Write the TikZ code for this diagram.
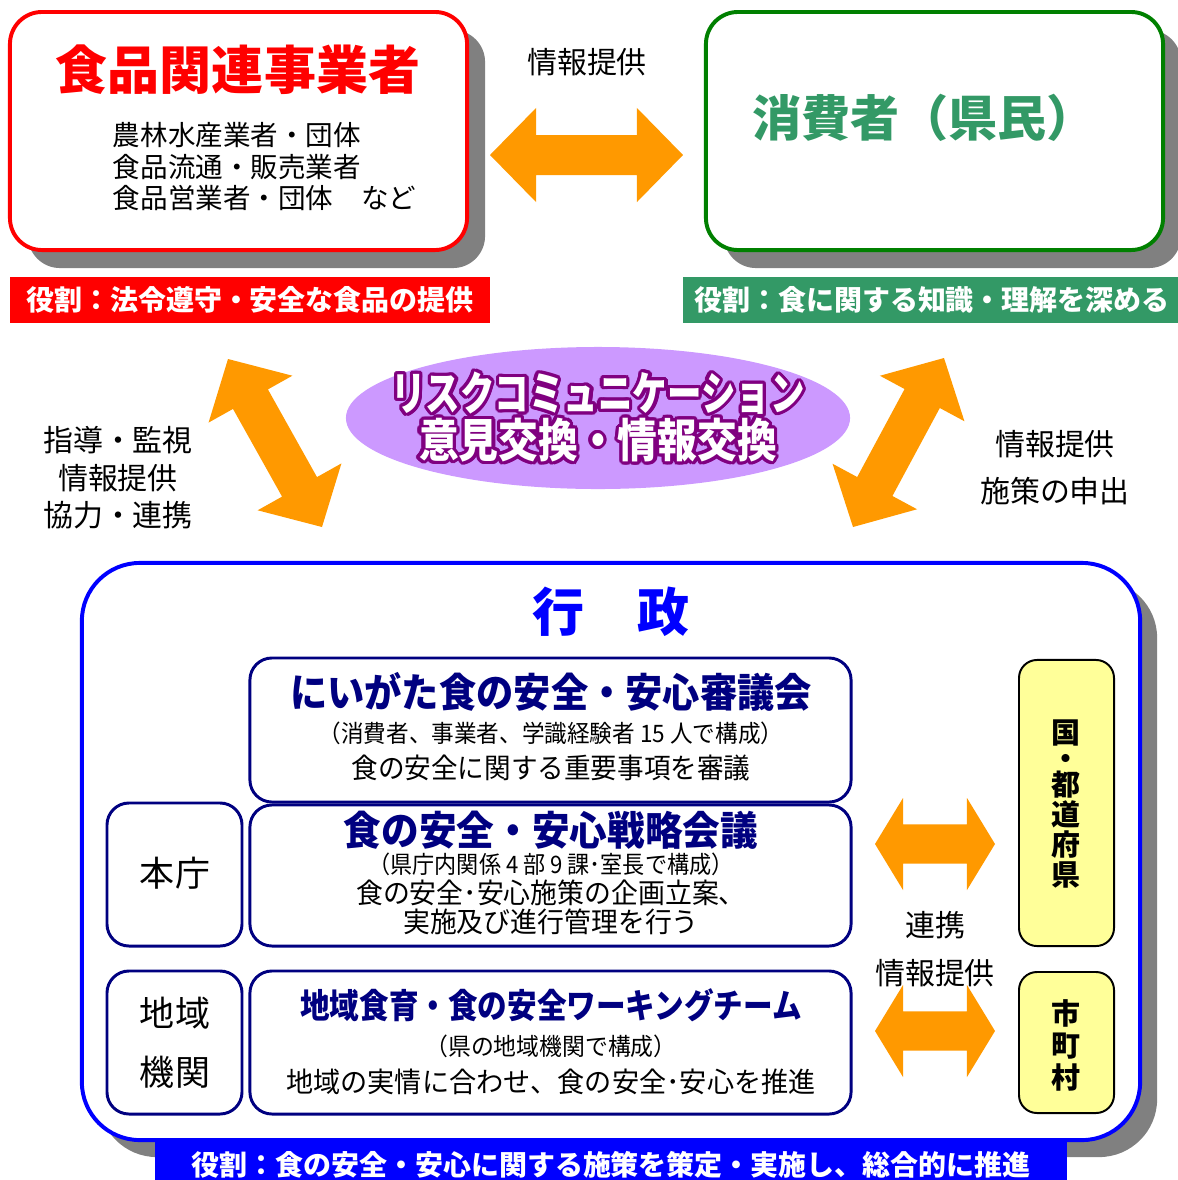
\documentclass[tikz,border=0pt]{standalone}
\usepackage{fontspec}
\usepackage{graphicx}
\setmainfont{Noto Sans CJK JP}
\usetikzlibrary{shapes.geometric,shadows,calc}
\definecolor{redc}{HTML}{FF0000}
\definecolor{greenline}{HTML}{008000}
\definecolor{seagreen}{HTML}{339966}
\definecolor{orangec}{HTML}{FF9900}
\definecolor{lilac}{HTML}{CC99FF}
\definecolor{plum}{HTML}{800080}
\definecolor{bluec}{HTML}{0000FF}
\definecolor{navyc}{HTML}{000080}
\definecolor{lemon}{HTML}{FFFF99}
\definecolor{shadowgray}{HTML}{808080}

% fat double arrow: ends, head length, head half width, shaft half width
\newcommand\fatarrow[5]{%
  \path ($(#1)!#3!(#2)$) coordinate (hA) ($(#2)!#3!(#1)$) coordinate (hB);
  \fill[fatfill] (#1) -- ($(hA)!#4!90:(#2)$) -- ($(hA)!#5!90:(#2)$)
    -- ($(hB)!#5!-90:(#1)$) -- ($(hB)!#4!-90:(#1)$) -- (#2)
    -- ($(hB)!#4!90:(#1)$) -- ($(hB)!#5!90:(#1)$)
    -- ($(hA)!#5!-90:(#2)$) -- ($(hA)!#4!-90:(#2)$) -- cycle;}
\newcommand\sx[2]{\scalebox{#1}[1]{#2}}

\begin{document}
\begin{tikzpicture}[x=0.025cm, y=-0.025cm,
    boxshadow/.style={drop shadow={shadow xshift=#1, shadow yshift=-#1, fill=shadowgray, opacity=1}},
    bigbox/.style={line width=2.8pt, fill=white},
    innerbox/.style={draw=navyc, line width=2.1pt, fill=white, rounded corners=0.55cm, minimum width=15.025cm},
    sidebox/.style={draw=navyc, line width=2.1pt, fill=white, rounded corners=0.55cm, minimum width=3.375cm, minimum height=3.575cm},
    yellowbox/.style={draw=black, line width=1.4pt, fill=lemon, rounded corners=0.45cm, minimum width=2.375cm},
    rolebar/.style={inner sep=0pt, text=white, font=\bfseries\fontsize{19.9}{22}\selectfont},
    sidetext/.style={font=\fontsize{21.3}{26.7}\selectfont, align=center},
    risktext/.style={font=\bfseries\fontsize{32.7}{36}\selectfont},
    navytitle/.style={text=navyc, font=\bfseries\fontsize{28.5}{30}\selectfont},
    smalltext/.style={font=\fontsize{17.1}{19}\selectfont},
    bodytext/.style={font=\fontsize{19.9}{20.6}\selectfont, align=center},
    fatfill/.style={fill=orangec}]
\useasboundingbox (0,0) rectangle (1178,1180);

\node[bigbox, draw=redc, rounded corners=0.8cm, boxshadow=0.45cm, minimum width=11.425cm, minimum height=5.95cm] (bizbox) at (238.5,131) {};
\node[font=\bfseries\fontsize{37}{40}\selectfont, text=redc] (biztitle) at (238,70) {食品関連事業者};
\node[anchor=west, align=left, font=\fontsize{19.6}{22.4}\selectfont] (bizlist) at (108,167) {農林水産業者・団体\\食品流通・販売業者\\食品営業者・団体　など};
\node[rolebar, fill=redc, minimum width=12cm, minimum height=1.15cm] (bizrole) at (250,300) {役割：法令遵守・安全な食品の提供};

\node[bigbox, draw=greenline, rounded corners=0.8cm, boxshadow=0.45cm, minimum width=11.425cm, minimum height=5.95cm] (consbox) at (934.5,131) {};
\node[font=\bfseries\fontsize{34.9}{38}\selectfont, text=seagreen] (constitle) at (924,118) {消費者（県民）};
\node[rolebar, fill=seagreen, minimum width=12.45cm, minimum height=1.15cm] (consrole) at (932,300) {役割：食に関する知識・理解を深める};

\node[sidetext] (topinfo) at (587,62) {情報提供};
\coordinate (topL) at (490,155);
\coordinate (topR) at (683,155);
\fatarrow{topL}{topR}{1.15cm}{1.175cm}{0.5cm}

\node[ellipse, fill=lilac, inner sep=0pt, minimum width=12.6cm, minimum height=3.55cm] (riskell) at (598,418) {};
\foreach \a in {0,20,...,340}{
  \node[risktext, text=plum, shift={(\a:2.4pt)}] (riskA\a) at (598,393) {\sx{0.75}{リスクコミュニケーション}};
  \node[risktext, text=plum, shift={(\a:2.4pt)}] (riskB\a) at (598,440) {\sx{0.865}{意見交換・情報交換}};
}
\node[risktext, text=white] (riskA) at (598,393) {\sx{0.75}{リスクコミュニケーション}};
\node[risktext, text=white] (riskB) at (598,440) {\sx{0.865}{意見交換・情報交換}};

\coordinate (leftA) at (228,359);
\coordinate (leftB) at (322,527);
\fatarrow{leftA}{leftB}{1.15cm}{1.2cm}{0.5cm}
\node[sidetext] (leftinfo) at (118,478) {指導・監視\\情報提供\\協力・連携};
\coordinate (rightA) at (944,358);
\coordinate (rightB) at (853,527);
\fatarrow{rightA}{rightB}{1.15cm}{1.2cm}{0.5cm}
\node[sidetext, font=\fontsize{21.3}{33.4}\selectfont] (rightinfo) at (1055,468) {情報提供\\施策の申出};

\node[bigbox, draw=bluec, rounded corners=1.45cm, boxshadow=0.425cm, minimum width=26.45cm, minimum height=14.425cm] (govbox) at (611,851.5) {};
\node[rolebar, fill=bluec, minimum width=22.8cm, minimum height=1.25cm] (govrole) at (611,1165) {役割：食の安全・安心に関する施策を策定・実施し、総合的に推進};
\node[text=bluec, font=\bfseries\fontsize{37}{40}\selectfont] (govtitle) at (611,612) {行　政};

\node[innerbox, minimum height=3.6cm] (council) at (550.5,730) {};
\node[navytitle] (counciltitle) at (551,692) {\sx{0.93}{にいがた食の安全・安心審議会}};
\node[smalltext] (councilsub) at (551,733) {\sx{0.94}{（消費者、事業者、学識経験者 15 人で構成）}};
\node[bodytext] (councilrole) at (551,768) {\sx{0.95}{食の安全に関する重要事項を審議}};

\node[innerbox, minimum height=3.525cm] (strategy) at (550.5,875.5) {};
\node[navytitle] (strategytitle) at (551,830) {\sx{0.94}{食の安全・安心戦略会議}};
\node[smalltext] (strategysub) at (551,864) {\sx{0.92}{（県庁内関係 4 部 9 課･室長で構成）}};
\node[bodytext] (strategyrole) at (551,907) {\sx{0.96}{食の安全･安心施策の企画立案、}\\\sx{0.96}{実施及び進行管理を行う}};

\node[innerbox, minimum height=3.575cm] (team) at (550.5,1042.5) {};
\node[navytitle, font=\bfseries\fontsize{24.2}{26}\selectfont] (teamtitle) at (551,1005) {\sx{0.87}{地域食育・食の安全ワーキングチーム}};
\node[smalltext] (teamsub) at (551,1046) {\sx{0.95}{（県の地域機関で構成）}};
\node[bodytext] (teamrole) at (551,1082) {\sx{0.97}{地域の実情に合わせ、食の安全･安心を推進}};

\node[sidebox] (honcho) at (174.5,874.5) {};
\node[font=\fontsize{24.9}{26}\selectfont] (honchotext) at (175,873) {本庁};
\node[sidebox] (chiiki) at (174.5,1042.5) {};
\node[font=\fontsize{24.9}{42}\selectfont, align=center] (chiikitext) at (175,1042.5) {地域\\機関};

\node[yellowbox, minimum height=7.15cm] (nation) at (1066.5,803) {};
\node[font=\bfseries\fontsize{20.6}{21.3}\selectfont, align=center] (nationtext) at (1066,804) {国\\[-2.8pt]・\\[-2.8pt]都\\道\\府\\県};
\node[yellowbox, minimum height=3.525cm] (city) at (1066.5,1042.5) {};
\node[font=\bfseries\fontsize{20.6}{22.8}\selectfont, align=center] (citytext) at (1066,1045) {市\\町\\村};

\coordinate (midA) at (875,844);
\coordinate (midB) at (995,844);
\fatarrow{midA}{midB}{0.7cm}{1.15cm}{0.49cm}
\coordinate (lowA) at (875,1031);
\coordinate (lowB) at (995,1031);
\fatarrow{lowA}{lowB}{0.7cm}{1.15cm}{0.49cm}
\node[sidetext] (linktext) at (935,925) {連携};
\node[sidetext] (linkinfo) at (935,973) {情報提供};
\end{tikzpicture}
\end{document}
